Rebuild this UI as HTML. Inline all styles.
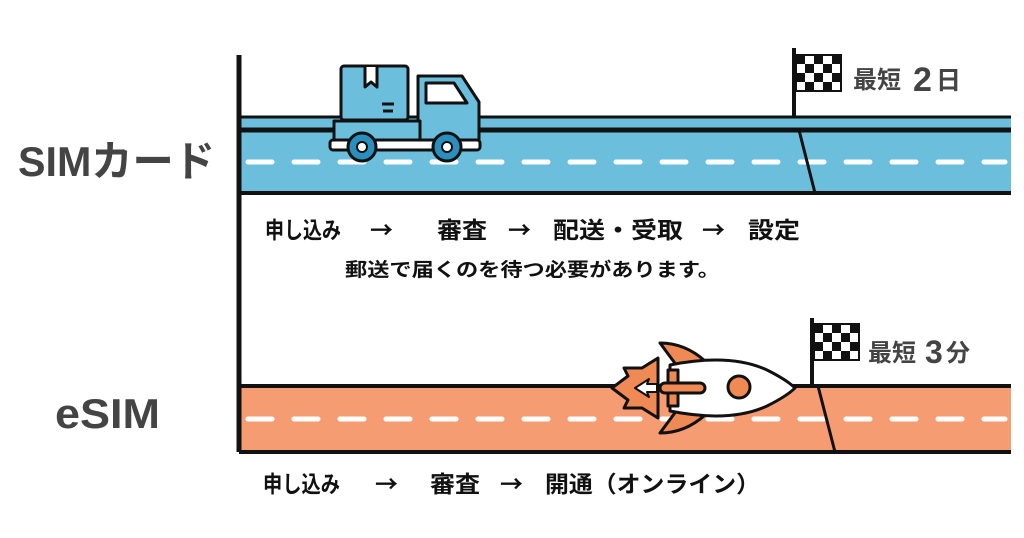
<!DOCTYPE html>
<html><head><meta charset="utf-8"><style>
html,body{margin:0;padding:0;background:#fff;width:1024px;height:538px;overflow:hidden}
svg{display:block}
text{font-family:"Liberation Sans","Noto Sans CJK JP",sans-serif;font-weight:bold}
.j{font-family:"Noto Sans CJK JP",sans-serif}
</style></head><body>
<svg width="1024" height="538" viewBox="0 0 1024 538">
<defs>
<pattern id="chk" x="796" y="55" width="18" height="18" patternUnits="userSpaceOnUse">
<rect width="18" height="18" fill="#fff"/><rect width="9" height="9" fill="#111"/><rect x="9" y="9" width="9" height="9" fill="#111"/>
</pattern>
<pattern id="chk2" x="814" y="324" width="18" height="18" patternUnits="userSpaceOnUse">
<rect width="18" height="18" fill="#fff"/><rect width="9" height="9" fill="#111"/><rect x="9" y="9" width="9" height="9" fill="#111"/>
</pattern>
</defs>
<rect x="239" y="117" width="772" height="76" fill="#6bbfdc"/>
<line x1="239" y1="117" x2="1011" y2="117" stroke="#111" stroke-width="3"/>
<line x1="239" y1="130" x2="1011" y2="130" stroke="#111" stroke-width="5"/>
<line x1="239" y1="193" x2="1011" y2="193" stroke="#111" stroke-width="4"/>
<line x1="248" y1="162" x2="1005" y2="162" stroke="#fff" stroke-width="5" stroke-dasharray="24,22" stroke-linecap="round"/>
<line x1="799" y1="130" x2="815" y2="193" stroke="#111" stroke-width="3"/>
<rect x="239" y="386" width="772" height="66" fill="#f59c72"/>
<line x1="239" y1="386" x2="1011" y2="386" stroke="#111" stroke-width="4"/>
<line x1="239" y1="452" x2="1011" y2="452" stroke="#111" stroke-width="4"/>
<line x1="248" y1="419" x2="1005" y2="419" stroke="#fff" stroke-width="5" stroke-dasharray="24,22" stroke-linecap="round"/>
<line x1="818" y1="386" x2="835" y2="452" stroke="#111" stroke-width="3"/>
<line x1="239" y1="55" x2="239" y2="452" stroke="#111" stroke-width="5"/>
<g stroke="#111" stroke-width="3" stroke-linejoin="round">
<rect x="341" y="66" width="67" height="54" rx="3" fill="#6bbfdc"/>
<path d="M365 67 v20 l6 -5 l6 5 v-20" fill="#fff"/>
<path d="M382 104 h12 M383 111 h10" />
<path d="M418 76 h44 l17 26 v44 h-61 z" fill="#6bbfdc"/>
<path d="M426 83 h28 l13 20 h-41 z" fill="#fff"/>
<rect x="334" y="121" width="86" height="25" fill="#6bbfdc"/>
<rect x="330" y="140" width="150" height="10" rx="3" fill="#fff"/>
<circle cx="362" cy="147" r="14" fill="#2a8fbd"/>
<circle cx="447" cy="147" r="14" fill="#2a8fbd"/>
</g>
<circle cx="362" cy="147" r="5" fill="#fff" stroke="#111" stroke-width="2"/>
<circle cx="447" cy="147" r="5" fill="#fff" stroke="#111" stroke-width="2"/>
<line x1="794" y1="48" x2="794" y2="118" stroke="#111" stroke-width="4"/>
<rect x="796" y="55" width="45" height="36" fill="url(#chk)" stroke="#111" stroke-width="2"/>
<text x="853" y="88" font-size="24" fill="#444">最短</text>
<text x="913" y="91" font-size="34" fill="#444">2</text>
<text x="936" y="89" font-size="25" fill="#444">日</text>
<line x1="812" y1="318" x2="812" y2="388" stroke="#111" stroke-width="4"/>
<rect x="814" y="324" width="45" height="36" fill="url(#chk2)" stroke="#111" stroke-width="2"/>
<text x="868" y="361" font-size="24" fill="#444">最短</text>
<text x="925" y="363" font-size="32" fill="#444">3</text>
<text x="946" y="361" font-size="24" fill="#444">分</text>
<g stroke="#111" stroke-width="3" stroke-linejoin="round">
<path d="M660 343 q25 0 45 18 l-28 5 z" fill="#f08a55"/>
<path d="M660 433 q25 0 45 -18 l-28 -5 z" fill="#f08a55"/>
<path d="M612 388 l16 -12 l-4 -8 l18 0 l16 -10 v60 l-16 -10 l-18 0 l4 -8 z" fill="#f08a55"/>
<path d="M635 388 l14 -9 l-2 5 h10 v8 h-10 l2 5 z" fill="#fff" stroke-width="2"/>
<path d="M670 365 q60 -12 97 5 q20 10 28 18 q-8 8 -28 18 q-37 17 -97 5 z" fill="#fff"/>
<rect x="668" y="370" width="10" height="36" fill="#f08a55"/>
<rect x="660" y="383" width="45" height="10" rx="5" fill="#f08a55"/>
<circle cx="739" cy="387" r="11" fill="#f08a55"/>
</g>
<text x="18" y="176" font-size="42" fill="#444" textLength="197" lengthAdjust="spacingAndGlyphs">SIMカード</text>
<text x="55" y="428" font-size="42" fill="#444" textLength="105" lengthAdjust="spacingAndGlyphs">eSIM</text>
<g font-size="23" fill="#111">
<text class="j" x="265" y="238" textLength="76" lengthAdjust="spacingAndGlyphs">申し込み</text>
<text class="j" x="370" y="238">→</text>
<text class="j" x="437" y="238" textLength="50" lengthAdjust="spacingAndGlyphs">審査</text>
<text class="j" x="508" y="238">→</text>
<text class="j" x="553" y="238" textLength="130" lengthAdjust="spacingAndGlyphs">配送・受取</text>
<text class="j" x="702" y="238">→</text>
<text class="j" x="748" y="238" textLength="52" lengthAdjust="spacingAndGlyphs">設定</text>
<text class="j" x="263" y="492" textLength="77" lengthAdjust="spacingAndGlyphs">申し込み</text>
<text class="j" x="375" y="492">→</text>
<text class="j" x="430" y="492" textLength="50" lengthAdjust="spacingAndGlyphs">審査</text>
<text class="j" x="500" y="492">→</text>
<text class="j" x="545" y="492" textLength="215" lengthAdjust="spacingAndGlyphs">開通（オンライン）</text>
</g>
<text class="j" x="345" y="276" font-size="19" fill="#111" textLength="375" lengthAdjust="spacingAndGlyphs">郵送で届くのを待つ必要があります。</text>
</svg>
</body></html>
